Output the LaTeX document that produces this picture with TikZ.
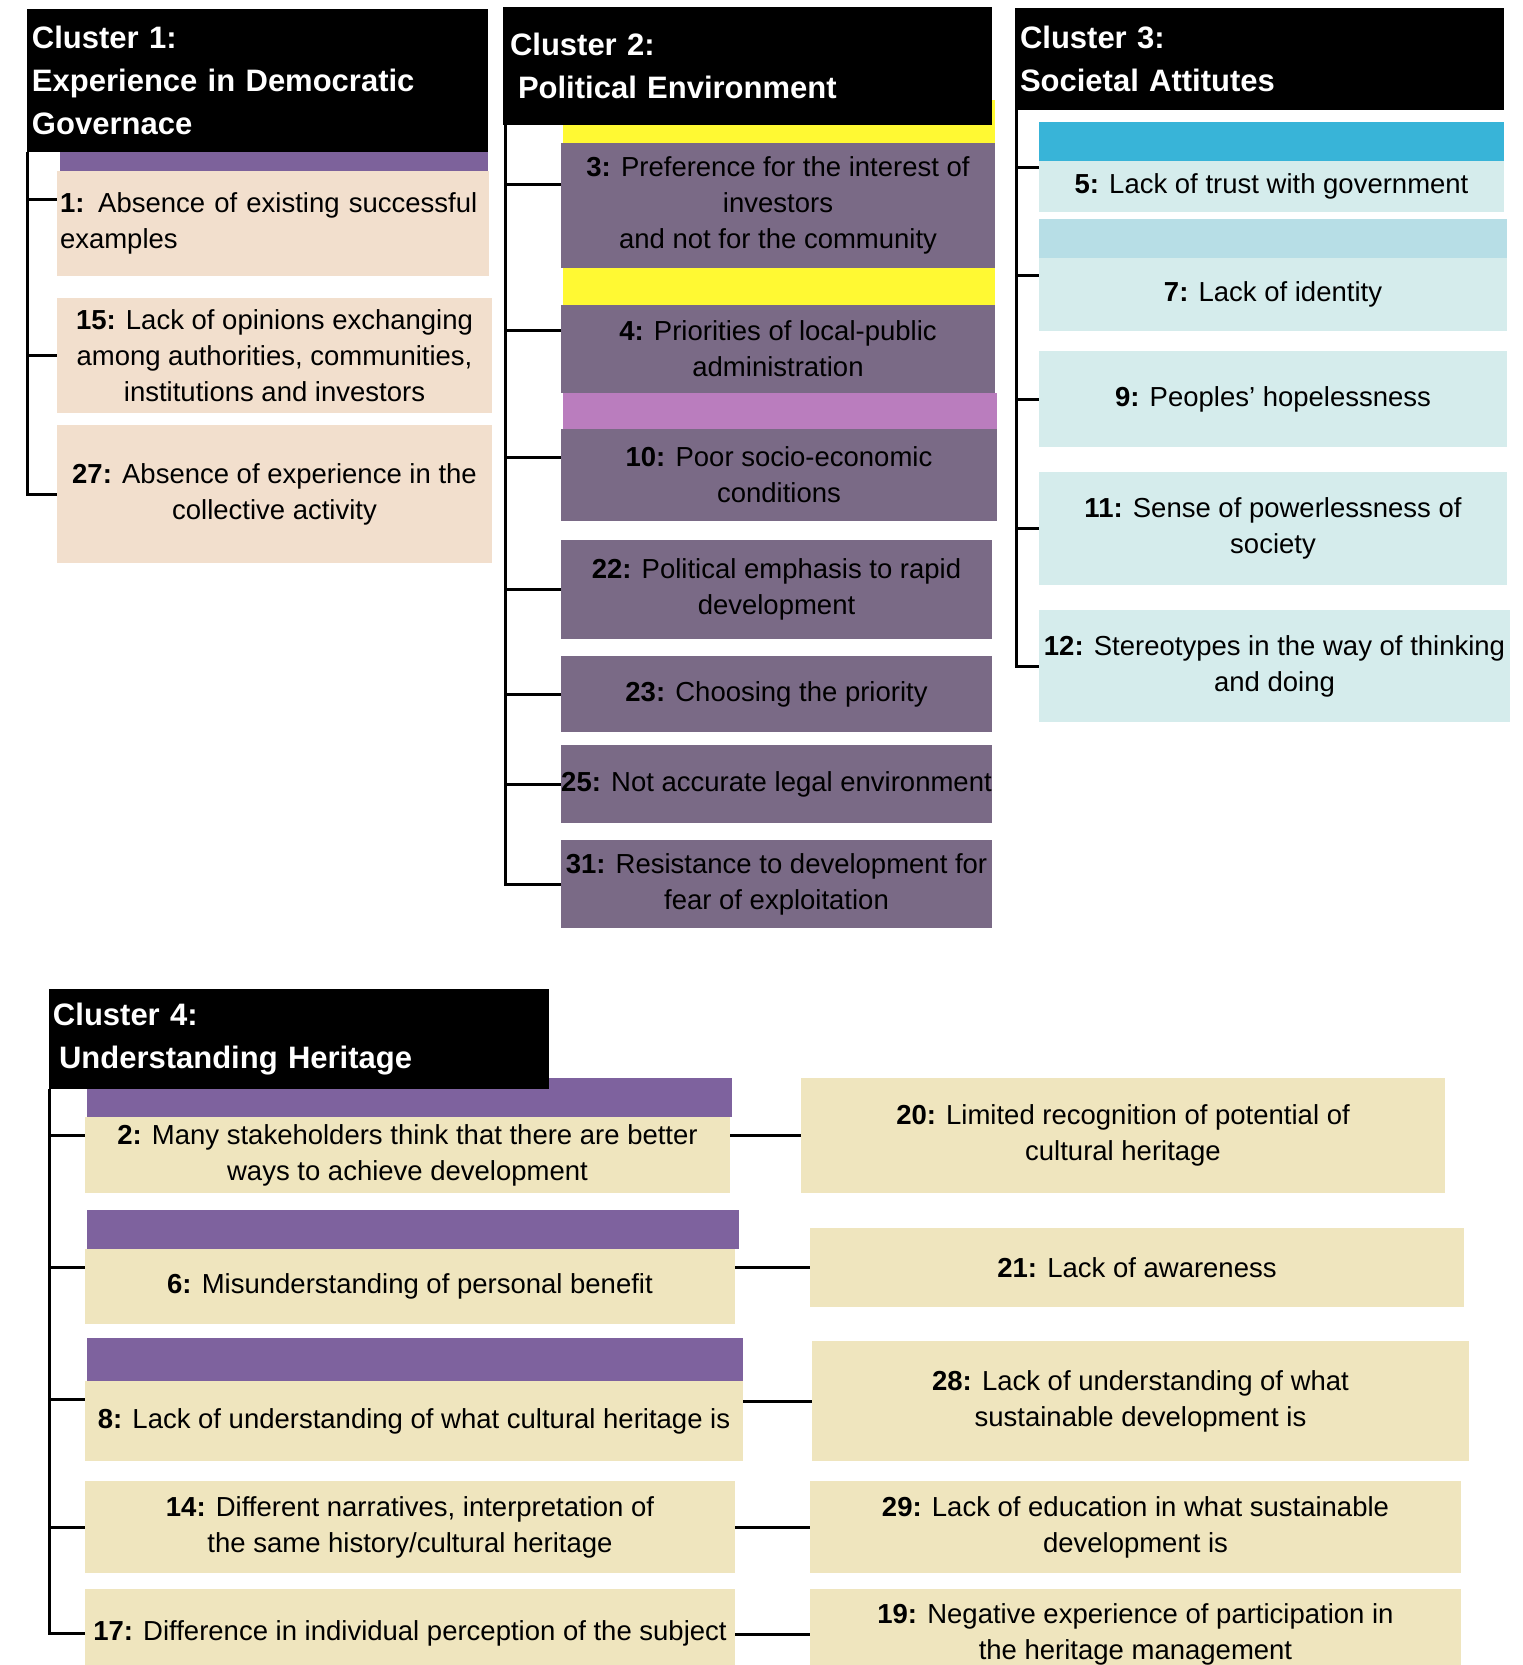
\documentclass[tikz,border=0pt]{standalone}
\usepackage{fontspec}
\setmainfont{Liberation Sans}
\usetikzlibrary{calc}
\definecolor{peach}{HTML}{F2DFCD}
\definecolor{plumbar}{HTML}{7D629B}
\definecolor{mauve}{HTML}{7A6A86}
\definecolor{yel}{HTML}{FFF933}
\definecolor{orchid}{HTML}{BA7DBE}
\definecolor{cyanbar}{HTML}{38B4D8}
\definecolor{paleblue}{HTML}{B7DEE6}
\definecolor{paleteal}{HTML}{D5ECEC}
\definecolor{beige}{HTML}{EFE5BE}
\definecolor{violetbar}{HTML}{7E629E}
\begin{document}
\begin{tikzpicture}[x=0.5pt,y=-0.5pt,
  spot/.style n args={4}{rectangle,inner sep=0pt,outer sep=0pt,anchor=north west,at={(#1,#2)},
     minimum width={(#3-#1)*0.5pt},minimum height={(#4-#2)*0.5pt}},
  item/.style={text=black,align=center,font=\fontsize{13.75}{18}\selectfont},
  hdr/.style={fill=black,text=white,align=left,font=\fontsize{15.5}{21.5}\selectfont\bfseries},
  conn/.style={draw=black,line width=1.5pt},
  cone/.style={item,fill=peach},
  ctwo/.style={item,fill=mauve},
  cthree/.style={item,fill=paleteal},
  cfour/.style={item,fill=beige}]
\useasboundingbox (0,0) rectangle (1522,1665);
\fill[white] (0,0) rectangle (1522,1665);
\clip (0,0) rectangle (1522,1665);

% ---------- bands (behind headers)
\node[spot={60}{122}{488}{170.5},fill=plumbar] (p1) {};
\node[spot={563}{100}{995}{143},fill=yel] (y3) {};
\node[spot={563}{268}{995}{305},fill=yel] (y4) {};
\node[spot={563}{393}{997}{429},fill=orchid] (v10) {};
\node[spot={1039}{122}{1504}{161},fill=cyanbar] (cb5) {};
\node[spot={1039}{219}{1507}{258},fill=paleblue] (cb7) {};
\node[spot={87}{1078}{732}{1117},fill=violetbar] (pb2) {};
\node[spot={87}{1210}{739}{1249},fill=violetbar] (pb6) {};
\node[spot={87}{1338}{743}{1381},fill=violetbar] (pb8) {};

% ---------- headers
\node[spot={26.5}{8.5}{488}{152},hdr,text width=225.25pt] (h1) {Cluster 1:\\Experience in Democratic\\Governace};
\node[spot={503}{7}{992}{125},hdr,text width=237.5pt] (h2) {Cluster 2:\\\hspace*{4pt}Political Environment};
\node[spot={1015}{8}{1504}{110},hdr,text width=239.5pt] (h3) {Cluster 3:\\Societal Attitutes};
\node[spot={49}{989}{549}{1089},hdr,text width=246pt] (h4) {Cluster 4:\\\hspace*{3pt}Understanding Heritage};

% ---------- cluster 1
\node[spot={57}{170.5}{489}{276},cone,align=left,text width=213pt] (b1) {\textbf{1:} Absence of existing successful\\examples};
\node[spot={57}{298}{492}{413},cone] (b15) {\textbf{15:} Lack of opinions exchanging\\among authorities, communities,\\institutions and investors};
\node[spot={57}{425}{492}{563},cone] (b27) {\textbf{27:} Absence of experience in the\\collective activity};

% ---------- cluster 2
\node[spot={561}{143}{995}{268},ctwo] (b3) {\textbf{3:} Preference for the interest of\\investors\\and not for the community};
\node[spot={561}{305}{995}{393},ctwo] (b4) {\textbf{4:} Priorities of local-public\\administration};
\node[spot={561}{429}{997}{521},ctwo] (b10) {\textbf{10:} Poor socio-economic\\conditions};
\node[spot={561}{540}{992}{639},ctwo] (b22) {\textbf{22:} Political emphasis to rapid\\development};
\node[spot={561}{656}{992}{732},ctwo] (b23) {\textbf{23:} Choosing the priority};
\node[spot={561}{745}{992}{823},ctwo] (b25) {\textbf{25:} Not accurate legal environment};
\node[spot={561}{840}{992}{928},ctwo] (b31) {\textbf{31:} Resistance to development for\\fear of exploitation};

% ---------- cluster 3
\node[spot={1039}{161}{1504}{212},cthree] (b5) {\textbf{5:} Lack of trust with government};
\node[spot={1039}{258}{1507}{331},cthree] (b7) {\textbf{7:} Lack of identity};
\node[spot={1039}{351}{1507}{447},cthree] (b9) {\textbf{9:} Peoples' hopelessness};
\node[spot={1039}{472}{1507}{585},cthree] (b11) {\textbf{11:} Sense of powerlessness of\\society};
\node[spot={1039}{610}{1510}{722},cthree] (b12) {\textbf{12:} Stereotypes in the way of thinking\\and doing};

% ---------- cluster 4 (left column)
\node[spot={85}{1117}{730}{1193},cfour] (b2) {\textbf{2:} Many stakeholders think that there are better\\ways to achieve development};
\node[spot={85}{1249}{735}{1324},cfour] (b6) {\textbf{6:} Misunderstanding of personal benefit};
\node[spot={85}{1381}{743}{1461},cfour] (b8) {\textbf{8:} Lack of understanding of what cultural heritage is};
\node[spot={85}{1481}{735}{1573},cfour] (b14) {\textbf{14:} Different narratives, interpretation of\\the same history/cultural heritage};
\node[spot={85}{1589}{735}{1677},cfour] (b17) {\textbf{17:} Difference in individual perception of the subject};

% ---------- cluster 4 (right column)
\node[spot={801}{1078}{1445}{1193},cfour] (b20) {\textbf{20:} Limited recognition of potential of\\cultural heritage};
\node[spot={810}{1228}{1464}{1307},cfour] (b21) {\textbf{21:} Lack of awareness};
\node[spot={812}{1341}{1469}{1461},cfour] (b28) {\textbf{28:} Lack of understanding of what\\sustainable development is};
\node[spot={810}{1481}{1461}{1573},cfour] (b29) {\textbf{29:} Lack of education in what sustainable\\development is};
\node[spot={810}{1589}{1461}{1679},cfour] (b19) {\textbf{19:} Negative experience of participation in\\the heritage management};

% ---------- branch points
\coordinate (m1) at ($(p1.north)!0.5!(b1.south)$);
\coordinate (m3) at ($(y3.north)!0.5!(b3.south)$);
\coordinate (m4) at ($(y4.north)!0.5!(b4.south)$);
\coordinate (m10) at ($(v10.north)!0.5!(b10.south)$);
\coordinate (m5) at ($(cb5.north)!0.5!(b5.south)$);
\coordinate (m7) at ($(cb7.north)!0.5!(b7.south)$);
\coordinate (m2) at ($(pb2.north)!0.5!(b2.south)$);
\coordinate (m6) at ($(pb6.north)!0.5!(b6.south)$);
\coordinate (m8) at ($(pb8.north)!0.5!(b8.south)$);

\coordinate (s1) at ([xshift=0.4pt]h1.south west);
\coordinate (s2) at ([xshift=1pt]h2.south west);
\coordinate (s3) at ([xshift=0.5pt]h3.south west);
\coordinate (s4) at ([xshift=0.25pt]h4.south west);

% ---------- connectors cluster 1
\draw[conn] (s1) |- (b27.west);
\draw[conn] (s1 |- m1) -- (b1.west |- m1);
\draw[conn] (s1 |- b15.west) -- (b15.west);

% ---------- connectors cluster 2
\draw[conn] (s2) |- (b31.west);
\draw[conn] (s2 |- m3) -- (b3.west |- m3);
\draw[conn] (s2 |- m4) -- (b4.west |- m4);
\draw[conn] (s2 |- m10) -- (b10.west |- m10);
\draw[conn] (s2 |- b22.west) -- (b22.west);
\draw[conn] (s2 |- b23.west) -- (b23.west);
\draw[conn] (s2 |- b25.west) -- (b25.west);

% ---------- connectors cluster 3
\draw[conn] (s3) |- (b12.west);
\draw[conn] (s3 |- m5) -- (b5.west |- m5);
\draw[conn] (s3 |- m7) -- (b7.west |- m7);
\draw[conn] (s3 |- b9.west) -- (b9.west);
\draw[conn] (s3 |- b11.west) -- (b11.west);

% ---------- connectors cluster 4
\draw[conn] (s4) |- (b17.west);
\draw[conn] (s4 |- m2) -- (b2.west |- m2);
\draw[conn] (s4 |- m6) -- (b6.west |- m6);
\draw[conn] (s4 |- m8) -- (b8.west |- m8);
\draw[conn] (s4 |- b14.west) -- (b14.west);
\draw[conn] (b2.east |- b20.west) -- (b20.west);
\draw[conn] (b6.east |- b21.west) -- (b21.west);
\draw[conn] (b8.east |- b28.west) -- (b28.west);
\draw[conn] (b14.east |- b29.west) -- (b29.west);
\draw[conn] (b17.east |- b19.west) -- (b19.west);
\end{tikzpicture}
\end{document}
